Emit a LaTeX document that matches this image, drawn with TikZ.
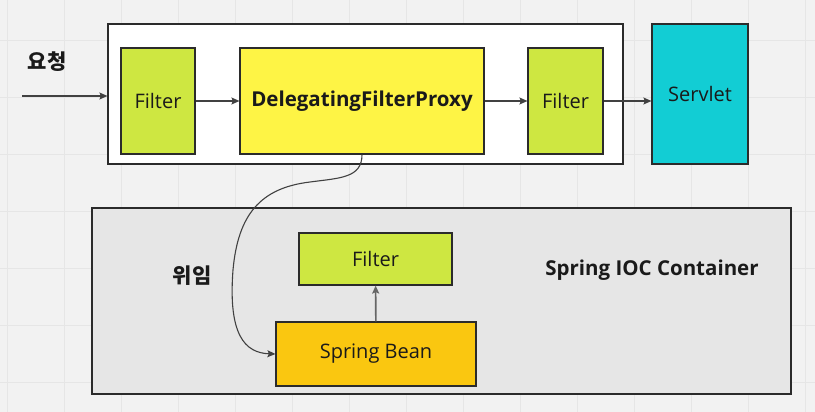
\documentclass[tikz,border=0pt]{standalone}
\usepackage{fontspec}
\setmainfont{Open Sans}
\newfontfamily\krfont{Noto Sans CJK KR}
\usetikzlibrary{arrows.meta}
\definecolor{bggrey}{HTML}{F2F2F2}
\definecolor{gridgrey}{HTML}{E6E6E6}
\definecolor{boxline}{HTML}{2B2B2B}
\definecolor{filtergreen}{HTML}{CEE741}
\definecolor{proxyyellow}{HTML}{FEF445}
\definecolor{servletcyan}{HTML}{12CDD4}
\definecolor{beanorange}{HTML}{FAC710}
\definecolor{containergrey}{HTML}{E6E6E6}
\definecolor{textdark}{HTML}{1A1A1A}
\definecolor{arrowgrey}{HTML}{414141}
\tikzstyle{box} = [draw=boxline, line width=1.2pt, rectangle, inner sep=0pt, text=textdark, font=\fontsize{20}{24}\selectfont]
\tikzstyle{label} = [text=textdark, font=\fontsize{20.5}{24}\selectfont\bfseries]
\tikzstyle{krlabel} = [text=textdark, font=\fontsize{21}{24}\selectfont\krfont\bfseries]
\tikzstyle{arrow} = [draw=arrowgrey, line width=1.1pt, -{Stealth[length=8pt, width=7pt, inset=1.5pt]}]

\begin{document}
\begin{tikzpicture}[x=1pt, y=-1pt]
	\useasboundingbox (0,0) rectangle (815,412);
	\fill[bggrey] (0,0) rectangle (815,412);
	\foreach \gx in {7,64,...,815} \draw[gridgrey, line width=0.8pt] (\gx,0) -- (\gx,412);
	\foreach \gy in {40,97,...,412} \draw[gridgrey, line width=0.8pt] (0,\gy) -- (815,\gy);

	% filter chain
	\node[box, fill=white, minimum width=515pt, minimum height=140pt](chain) at (365.5, 94){};
	\node[box, fill=filtergreen, minimum width=74pt, minimum height=106pt](filterA) at (158, 101){Filter};
	\node[box, fill=proxyyellow, minimum width=244pt, minimum height=106pt, font=\fontsize{20.5}{24}\selectfont\bfseries](proxy) at (362, 101){DelegatingFilterProxy};
	\node[box, fill=filtergreen, minimum width=75pt, minimum height=106pt](filterB) at (565.5, 101){Filter};
	\node[box, fill=servletcyan, minimum width=96pt, minimum height=140pt](servlet) at (700, 94){Servlet};

	% container
	\node[box, fill=containergrey, minimum width=699pt, minimum height=186pt](container) at (441.5, 301){};
	\node[box, fill=filtergreen, minimum width=153pt, minimum height=52pt](filterC) at (375.5, 259){Filter};
	\node[box, fill=beanorange, minimum width=200pt, minimum height=64pt](bean) at (376, 354){Spring Bean};

	\node[krlabel](request) at (47, 62){요청};
	\node[krlabel](delegate) at (192, 276){위임};
	\node[label](ioc) at (652, 270){Spring IOC Container};

	\coordinate(start) at (22, 96);
	\draw[arrow](start) -- (start -| chain.west);
	\draw[arrow](filterA) -- (proxy);
	\draw[arrow](proxy) -- (filterB);
	\draw[arrow](filterB) -- (filterB -| servlet.west);
	\draw[arrow, draw=black!60, line width=1.6pt](bean) -- (filterC);
	\draw[arrow](proxy.south) .. controls (362,178) and (340,178) .. (310,182)
		.. controls (260,188) and (238,215) .. (233,270)
		.. controls (228,335) and (245,353) .. (bean.west);
\end{tikzpicture}
\end{document}
